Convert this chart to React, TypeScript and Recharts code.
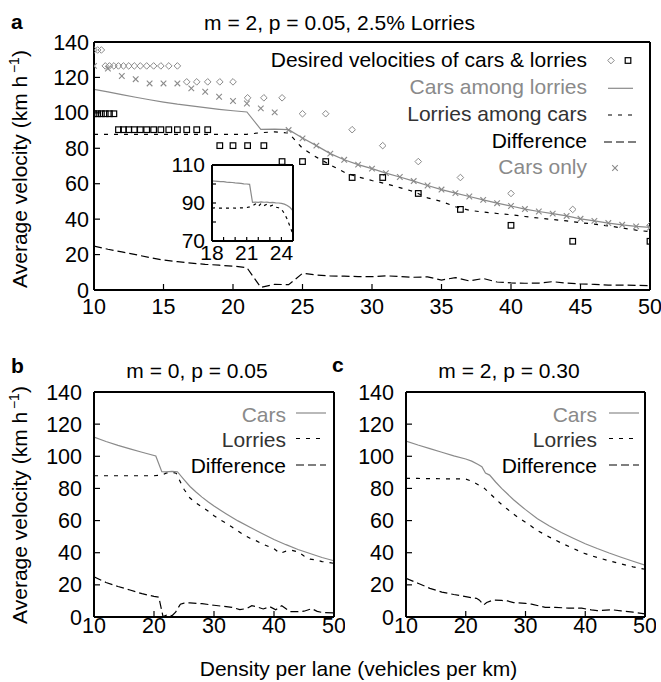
import { ComposedChart, Line, Scatter, XAxis, YAxis } from "recharts";

const FONT = "'Liberation Sans', Arial, Helvetica, sans-serif";
const GRAY = "#8a8a8a";
const DARK = "#333";

// ---- panel a : m = 2, p = 0.05, 2.5% lorries ----
const desiredDensity = [
  10, 10.26, 10.53, 10.81, 11.11, 11.43, 11.76, 12.12, 12.5, 12.9, 13.33, 13.79, 14.29, 14.81,
  15.38, 16, 16.67, 17.39, 18.18, 19.05, 20, 21.05, 22.22, 23.53, 25, 26.67, 28.57, 30.77, 33.33,
  36.36, 40, 44.44, 50,
];
const desiredCars = [
  135.5, 135.5, 135.5, 126.5, 126.5, 126.5, 126.5, 126.5, 126.5, 126.5, 126.5, 126.5, 126.5, 126.5,
  126.5, 126.5, 117.5, 117.5, 117.5, 117.5, 117.5, 108.5, 108.5, 108.5, 99.5, 99.5, 90.5, 81.5, 72.5,
  63.5, 54.5, 45.5, 36.5,
];
const desiredLorries = [
  99.5, 99.5, 99.5, 99.5, 99.5, 99.5, 90.5, 90.5, 90.5, 90.5, 90.5, 90.5, 90.5, 90.5, 90.5, 90.5,
  90.5, 90.5, 90.5, 81.5, 81.5, 81.5, 81.5, 72.5, 72.5, 72.5, 63.5, 63.5, 54.5, 45.5, 36.5, 27.5, 27.5,
];

const densityA = [
  10, 11, 12, 13, 14, 15, 16, 17, 18, 19, 20, 21, 22, 23, 24, 25, 26, 27, 28, 29, 30, 31, 32, 33, 34,
  35, 36, 37, 38, 39, 40, 41, 42, 43, 44, 45, 46, 47, 48, 49, 50,
];
const carsAmongLorries = [
  113.3, 111.8, 110.3, 108.8, 107.4, 106.1, 104.9, 103.9, 102.9, 102.0, 101.2, 100.5, 90.7, 90.8,
  90.5, 85.8, 81.5, 77, 73.5, 70.8, 68.5, 66, 63.8, 61.5, 59, 56.7, 54.7, 52.8, 50.9, 49, 47.4, 45.7,
  44.3, 43.1, 41.8, 40.2, 39, 37.8, 36.8, 35.9, 35.3,
];
const lorriesAmongCars = [
  87.9, 87.9, 87.9, 87.9, 87.9, 87.9, 87.9, 87.9, 87.9, 87.9, 87.9, 87.9, 88.8, 89.3, 88.6, 80, 75,
  70.6, 66.5, 63.8, 61.8, 60, 57.8, 55.6, 52, 50, 47, 45, 44, 43.2, 42.5, 41.5, 40.6, 39.8, 39, 38,
  37.2, 36.2, 35, 33.8, 32.9,
];
const differenceA = [
  24.8, 23, 21.5, 20, 18.3, 16.9, 16, 15.2, 14.5, 14, 13.5, 12.6, 1.5, 3.2, 3, 9.4, 8.5, 7.9, 7.8,
  7.6, 7.5, 8, 7.6, 7.2, 7.4, 5.6, 7, 5.1, 6.5, 4.5, 4, 3.8, 3.9, 4.7, 3.9, 3.4, 3.2, 2.8, 2.8, 2.6,
  2.5,
];
const carsOnly = [
  126.5, 125, 120.8, 119, 116.6, 116.6, 116.6, 113.8, 111.9, 109.1, 106.7, 105.3, 102.5, 100.3, 90.3,
  85.6, 81.5, 77, 73.5, 70.8, 68.5, 66, 63.8, 61.5, 59, 56.7, 54.7, 52.8, 50.9, 49, 47.4, 45.7, 44.3,
  43.1, 41.8, 40.2, 39, 37.8, 36.8, 35.9, 35.3,
];

// inset of panel a (zoom on the jam transition)
const insetDensity = [
  18, 18.25, 18.5, 18.75, 19, 19.25, 19.5, 19.75, 20, 20.25, 20.5, 20.75, 21, 21.25, 21.5, 21.75, 22,
  22.25, 22.5, 22.75, 23, 23.25, 23.5, 23.75, 24, 24.25, 24.5, 24.75, 25,
];
const insetCars = [
  101.6, 101.5, 101.4, 101.3, 101.2, 101.0, 100.9, 100.8, 100.6, 100.5, 100.3, 100.1, 100.0, 99.8,
  90.3, 90.5, 90.3, 90.6, 90.4, 90.5, 90.2, 90.3, 90.1, 90.0, 89.8, 89.4, 88.7, 87.6, 85.9,
];
const insetLorries = [
  87.3, 87.4, 87.3, 87.3, 87.4, 87.3, 87.3, 87.4, 87.3, 87.4, 87.5, 87.4, 87.6, 88.0, 88.5, 89.5,
  88.2, 89.8, 88.6, 89.4, 88.3, 88.9, 87.8, 87.5, 86.8, 84.5, 81.5, 77.5, 73.5,
];

// ---- panel b : m = 0, p = 0.05 ----
const bCarsDensity = [
  10, 12, 14, 16, 18, 20.3, 21.3, 22, 23, 23.9, 25, 26, 27, 28, 29, 30, 32, 34, 36, 38, 40, 42, 44,
  46, 48, 50,
];
const bCars = [
  112, 109.2, 106.8, 104.6, 102.5, 100.2, 90.4, 90.3, 90.6, 90.4, 85.5, 81.2, 77.8, 74.6, 71.7, 69,
  64.3, 59.8, 55.8, 52, 48.2, 45, 42, 39.5, 37, 35,
];
const bLorriesDensity = [
  10, 12, 14, 16, 18, 20, 21.3, 22, 23, 23.7, 24.5, 25, 26, 27, 28, 29, 30, 31, 32, 33, 34, 35, 36,
  37, 38, 39, 40, 41, 42, 43, 44, 45, 46, 47, 48, 49, 50,
];
const bLorries = [
  87.9, 87.9, 87.9, 87.9, 87.9, 87.9, 88.3, 89.5, 90, 89.5, 83.2, 79.5, 74, 71, 68.5, 66, 63, 60.5,
  58.5, 56, 53.5, 51, 49, 47.5, 45.5, 44, 42.5, 39.6, 41, 41.5, 40.5, 38, 36, 35.5, 34.5, 34, 33.4,
];
const bDiffDensity = [
  10, 12, 14, 16, 18, 20, 20.8, 21.5, 22.3, 23, 23.6, 24.4, 25, 26, 28, 30, 31.6, 33, 34.3, 35.5,
  36.3, 37.1, 38.2, 39.3, 40.3, 41.3, 42.7, 44, 45, 46.3, 47.2, 48.2, 50,
];
const bDiff = [
  25, 21.5, 19, 16.8, 14.5, 12.8, 12.3, 0.3, 1.5, 0.8, 3, 8, 8.6, 8.8, 8.3, 7.3, 6.6, 6, 4.6, 5.3, 7,
  6.4, 5, 6.4, 4.5, 7, 3.3, 3.3, 3.6, 5.2, 3.5, 2.7, 2.5,
];

// ---- panel c : m = 2, p = 0.30 ----
const cCarsDensity = [
  10, 12, 14, 16, 18, 20, 21, 22, 22.7, 23.3, 24, 25, 26, 27, 28, 29, 30, 32, 34, 36, 38, 40, 42, 44,
  46, 48, 50,
];
const cCars = [
  109.5, 107, 104.8, 102.5, 100.3, 98.3, 97, 95, 93.5, 89.5, 88.3, 84, 80, 76.5, 73, 69.8, 66.8, 61.2,
  56.6, 52.6, 49, 45.6, 42.6, 39.8, 37.2, 34.7, 32.2,
];
const cLorriesDensity = [
  10, 12, 14, 16, 18, 20, 21, 22, 23, 24, 25, 26, 27, 28, 29, 30, 32, 34, 36, 38, 40, 42, 44, 46, 48,
  50,
];
const cLorries = [
  86.3, 86.2, 86.1, 86, 86, 85.8, 84.5, 82.5, 80.5, 77, 73.5, 70, 67, 64, 61.3, 59, 53.8, 49.7, 46,
  42.6, 39.4, 37, 35, 33, 31.2, 29.7,
];
const cDiffDensity = [
  10, 12, 14, 16, 18, 20, 21, 21.8, 22.3, 23, 23.5, 24.6, 26, 27, 28, 30, 31, 33.3, 35, 37.2, 39.4,
  41, 42, 44.5, 46, 48, 50,
];
const cDiff = [
  24, 21, 17.8, 15.5, 14, 12.7, 12, 11.6, 10.5, 7.5, 9, 10.6, 10.3, 10, 9, 8.5, 8, 6, 6, 5.5, 5.5,
  4.4, 4, 4.5, 3.8, 3, 2,
];

const xTicksA = [10, 15, 20, 25, 30, 35, 40, 45, 50];
const xTicksBC = [10, 20, 30, 40, 50];
const yTicks = [0, 20, 40, 60, 80, 100, 120, 140];
const insetXTicks = [18, 19, 20, 21, 22, 23, 24, 25];
const insetXLabels = [18, 21, 24];
const insetYTicks = [70, 80, 90, 100, 110];
const insetYLabels = [70, 90, 110];

const zip = (xs: number[], ys: number[]) => xs.map((x, i) => ({ x, y: ys[i] }));

const AXIS = { stroke: "#000", strokeWidth: 2 };
const TICK = { stroke: "#000", strokeWidth: 1.2 };
const LORRY_DASH = "4 6";
const DIFF_DASH = "8 4";

const Diamond = (props: any) => {
  const { cx, cy } = props;
  if (cx == null || cy == null) return <g />;
  const r = 3.3;
  return (
    <polygon
      points={`${cx},${cy - r} ${cx + r},${cy} ${cx},${cy + r} ${cx - r},${cy}`}
      fill="none"
      stroke={GRAY}
      strokeWidth={1}
    />
  );
};

const Square = (props: any) => {
  const { cx, cy } = props;
  if (cx == null || cy == null) return <g />;
  return (
    <rect x={cx - 2.8} y={cy - 2.8} width={5.6} height={5.6} fill="none" stroke="#000" strokeWidth={1.2} />
  );
};

const Cross = (props: any) => {
  const { cx, cy } = props;
  if (cx == null || cy == null) return <g />;
  const r = 2.8;
  return (
    <g stroke={GRAY} strokeWidth={1.1}>
      <line x1={cx - r} y1={cy - r} x2={cx + r} y2={cy + r} />
      <line x1={cx - r} y1={cy + r} x2={cx + r} y2={cy - r} />
    </g>
  );
};

// bottom/left axes with labels, top/right mirrors with inward ticks only
const frameAxes = (o: any) => [
  <XAxis
    key="xb"
    dataKey="x"
    type="number"
    domain={o.xDomain}
    ticks={o.xTicks}
    interval={0}
    allowDataOverflow
    height={30}
    tickSize={-o.tickLen}
    tickMargin={o.xMargin}
    axisLine={AXIS}
    tickLine={TICK}
    tick={{ fontSize: o.fontSize, fill: "#000" }}
    tickFormatter={o.xFormat}
  />,
  <XAxis
    key="xt"
    xAxisId="top"
    orientation="top"
    type="number"
    domain={o.xDomain}
    ticks={o.xTicks}
    interval={0}
    allowDataOverflow
    height={1}
    tickSize={-o.tickLen}
    axisLine={AXIS}
    tickLine={TICK}
    tick={false}
  />,
  <YAxis
    key="yl"
    type="number"
    domain={o.yDomain}
    ticks={o.yTicks}
    interval={0}
    allowDataOverflow
    width={o.yWidth}
    tickSize={-o.tickLen}
    tickMargin={o.yMargin}
    axisLine={AXIS}
    tickLine={TICK}
    tick={{ fontSize: o.fontSize, fill: "#000" }}
    tickFormatter={o.yFormat}
  />,
  <YAxis
    key="yr"
    yAxisId="right"
    orientation="right"
    type="number"
    domain={o.yDomain}
    ticks={o.yTicks}
    interval={0}
    allowDataOverflow
    width={1}
    tickSize={-o.tickLen}
    axisLine={AXIS}
    tickLine={TICK}
    tick={false}
  />,
];

const lineProps = { dot: false, activeDot: false, isAnimationActive: false, strokeWidth: 1.2 } as any;

const PanelA = () => (
  <ComposedChart width={661} height={330} margin={{ top: 41, right: 10, bottom: 10, left: 0 }}>
    {frameAxes({
      xDomain: [10, 50],
      xTicks: xTicksA,
      yDomain: [0, 140],
      yTicks,
      tickLen: 6,
      xMargin: 15,
      yMargin: 11,
      yWidth: 94,
      fontSize: 21.5,
    })}
    <Line data={zip(densityA, differenceA)} dataKey="y" stroke="#000" strokeDasharray={DIFF_DASH} {...lineProps} />
    <Line data={zip(densityA, lorriesAmongCars)} dataKey="y" stroke="#000" strokeDasharray={LORRY_DASH} {...lineProps} />
    <Line data={zip(densityA, carsAmongLorries)} dataKey="y" stroke={GRAY} {...lineProps} />
    <Scatter data={zip(densityA, carsOnly)} dataKey="y" shape={Cross} isAnimationActive={false} />
    <Scatter data={zip(desiredDensity, desiredCars)} dataKey="y" shape={Diamond} isAnimationActive={false} />
    <Scatter data={zip(desiredDensity, desiredLorries)} dataKey="y" shape={Square} isAnimationActive={false} />
  </ComposedChart>
);

const Inset = () => (
  <ComposedChart width={170} height={130} margin={{ top: 19, right: 6, bottom: 4, left: 0 }}>
    {frameAxes({
      xDomain: [18, 25],
      xTicks: insetXTicks,
      yDomain: [70, 110],
      yTicks: insetYTicks,
      tickLen: 4,
      xMargin: 8,
      yMargin: 11,
      yWidth: 82,
      fontSize: 21,
      xFormat: (v: number) => (insetXLabels.includes(v) ? String(v) : ""),
      yFormat: (v: number) => (insetYLabels.includes(v) ? String(v) : ""),
    })}
    <Line data={zip(insetDensity, insetLorries)} dataKey="y" stroke="#000" strokeDasharray="3 4" {...lineProps} />
    <Line data={zip(insetDensity, insetCars)} dataKey="y" stroke={GRAY} {...lineProps} />
  </ComposedChart>
);

const SmallPanel = ({ cars, lorries, diff }: any) => (
  <ComposedChart width={cars.width} height={300} margin={{ top: 31, right: 10, bottom: 13, left: 0 }}>
    {frameAxes({
      xDomain: [10, 50],
      xTicks: xTicksBC,
      yDomain: [0, 140],
      yTicks,
      tickLen: 6,
      xMargin: 7,
      yMargin: 18,
      yWidth: 94,
      fontSize: 21.5,
    })}
    <Line data={diff} dataKey="y" stroke="#000" strokeDasharray={DIFF_DASH} {...lineProps} />
    <Line data={lorries} dataKey="y" stroke="#000" strokeDasharray={LORRY_DASH} {...lineProps} />
    <Line data={cars.data} dataKey="y" stroke={GRAY} {...lineProps} />
  </ComposedChart>
);

const YLabel = ({ x, y }: any) => (
  <text transform={`translate(${x},${y}) rotate(-90)`} textAnchor="middle" fontSize={21} fill="#000">
    Average velocity (km h
    <tspan dy={-8} fontSize={14}>
      {"\u2009\u22121"}
    </tspan>
    <tspan dy={8}>)</tspan>
  </text>
);

const smallLegend = (right: number, x1: number, x2: number) => (
  <g fontSize={21} textAnchor="end">
    <text x={right} y={421.7} fill={GRAY}>
      Cars
    </text>
    <text x={right} y={447.3} fill={DARK}>
      Lorries
    </text>
    <text x={right} y={473.3} fill="#000">
      Difference
    </text>
    <line x1={x1} x2={x2} y1={413} y2={413} stroke={GRAY} strokeWidth={1.2} />
    <line x1={x1} x2={x2} y1={438.5} y2={438.5} stroke="#000" strokeWidth={1.2} strokeDasharray={LORRY_DASH} />
    <line x1={x1} x2={x2} y1={465} y2={465} stroke="#000" strokeWidth={1.2} strokeDasharray={DIFF_DASH} />
  </g>
);

export default function App() {
  return (
    <div
      style={{
        position: "absolute",
        left: 0,
        top: 0,
        width: 661,
        height: 682,
        background: "#fff",
        fontFamily: FONT,
      }}
    >
      <div style={{ position: "absolute", left: 0, top: 0 }}>
        <PanelA />
      </div>
      <div style={{ position: "absolute", left: 130, top: 145 }}>
        <Inset />
      </div>
      <div style={{ position: "absolute", left: 0, top: 360 }}>
        <SmallPanel
          cars={{ width: 345, data: zip(bCarsDensity, bCars) }}
          lorries={zip(bLorriesDensity, bLorries)}
          diff={zip(bDiffDensity, bDiff)}
        />
      </div>
      <div style={{ position: "absolute", left: 312, top: 360 }}>
        <SmallPanel
          cars={{ width: 344, data: zip(cCarsDensity, cCars) }}
          lorries={zip(cLorriesDensity, cLorries)}
          diff={zip(cDiffDensity, cDiff)}
        />
      </div>

      <svg
        width={661}
        height={682}
        style={{ position: "absolute", left: 0, top: 0, pointerEvents: "none" }}
        fontFamily={FONT}
      >
        {/* panel a */}
        <text x={11} y={29} fontSize={21} fontWeight="bold">
          a
        </text>
        <text x={339.5} y={30} fontSize={21} textAnchor="middle">
          m = 2, p = 0.05, 2.5% Lorries
        </text>
        <YLabel x={27} y={169} />
        <g fontSize={21} textAnchor="end">
          <text x={587} y={66.7} fill="#000">
            Desired velocities of cars &amp; lorries
          </text>
          <text x={587} y={94} fill={GRAY}>
            Cars among lorries
          </text>
          <text x={587} y={120.7} fill={DARK}>
            Lorries among cars
          </text>
          <text x={587} y={147.7} fill="#000">
            Difference
          </text>
          <text x={587} y={174} fill={GRAY}>
            Cars only
          </text>
        </g>
        <Diamond cx={611} cy={60.5} />
        <Square cx={628} cy={60.5} />
        <line x1={608} x2={633} y1={88.3} y2={88.3} stroke={GRAY} strokeWidth={1.2} />
        <line x1={608} x2={633} y1={115} y2={115} stroke="#000" strokeWidth={1.2} strokeDasharray={LORRY_DASH} />
        <line x1={604} x2={636} y1={142} y2={142} stroke="#000" strokeWidth={1.2} strokeDasharray={DIFF_DASH} />
        <Cross cx={615} cy={168} />

        {/* panel b */}
        <text x={11} y={373} fontSize={21} fontWeight="bold">
          b
        </text>
        <text x={197} y={378} fontSize={21} textAnchor="middle">
          m = 0, p = 0.05
        </text>
        <YLabel x={27} y={505} />
        {smallLegend(286, 296, 326)}

        {/* panel c */}
        <text x={332} y={372} fontSize={21} fontWeight="bold">
          c
        </text>
        <text x={509} y={378} fontSize={21} textAnchor="middle">
          m = 2, p = 0.30
        </text>
        {smallLegend(597, 609, 639)}

        <text x={358.5} y={676} fontSize={21} textAnchor="middle">
          Density per lane (vehicles per km)
        </text>
      </svg>
    </div>
  );
}
